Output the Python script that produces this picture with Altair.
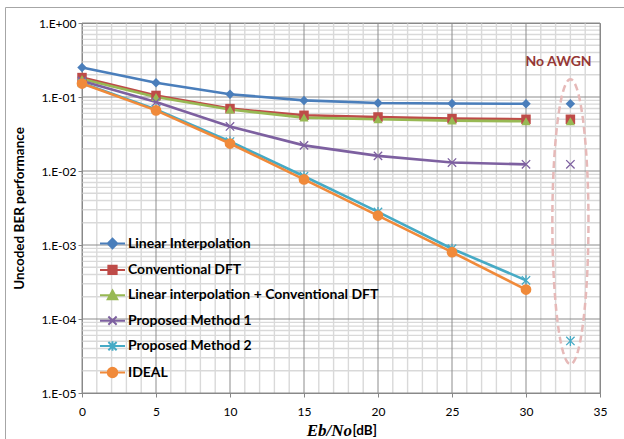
import math
import altair as alt
import pandas as pd

# ---------------- data ----------------
snr = [0, 5, 10, 15, 20, 25, 30, 33]
linear_interp = [0.25, 0.156, 0.109, 0.090, 0.083, 0.0815, 0.081, 0.081]
conv_dft = [0.183, 0.105, 0.0697, 0.0566, 0.0537, 0.051, 0.050, 0.050]
li_dft = [0.175, 0.100, 0.0676, 0.0527, 0.050, 0.048, 0.047, 0.047]
method1 = [0.165, 0.0855, 0.040, 0.0222, 0.016, 0.013, 0.0123, 0.0123]
method2 = [0.155, 0.068, 0.025, 0.0085, 0.0028, 0.00089, 0.000333, 0.0000505]
ideal = [0.152, 0.066, 0.0235, 0.0077, 0.0025, 0.0008, 0.00025]

series_names = ["Linear Interpolation", "Conventional DFT",
                "Linear interpolation + Conventional DFT",
                "Proposed Method 1", "Proposed Method 2", "IDEAL"]
series_values = [linear_interp, conv_dft, li_dft, method1, method2, ideal]
colors = ["#4A7EBB", "#BE4B48", "#98B954", "#7D60A0", "#46AAC5", "#F08A3A"]

x_ticks = [0, 5, 10, 15, 20, 25, 30, 35]
y_ticks = [1e-5, 1e-4, 1e-3, 1e-2, 1e-1, 1]

annot_text = ["No AWGN"]
annot_pos = [32.2, 0.30]
ellipse_center = [33.0, -2.685]   # x, log10(y)
ellipse_radii = [1.22, 1.925]

# ---------------- tables ----------------
rows = []
for name, vals in zip(series_names, series_values):
    for xv, yv in zip(snr, vals):
        rows.append({"x": xv, "y": yv, "series": name})
df = pd.DataFrame(rows)

gx = pd.DataFrame({"x": list(range(0, 36))})
gx["major"] = gx["x"] % 5 == 0
gy_vals = [m * 10.0 ** e for e in range(-5, 0) for m in range(1, 10)] + [1.0]
gy = pd.DataFrame({"y": gy_vals,
                   "major": [abs(math.log10(v) - round(math.log10(v))) < 1e-9 for v in gy_vals]})

ell = []
n = 120
for i in range(n + 1):
    t = 2 * math.pi * i / n
    ell.append({"i": i,
                "x": ellipse_center[0] + ellipse_radii[0] * math.cos(t),
                "y": 10 ** (ellipse_center[1] + ellipse_radii[1] * math.sin(t))})
ell = pd.DataFrame(ell)

FONT = "Lato"
xs = alt.Scale(domain=[0, 35], nice=False, zero=False)
ys = alt.Scale(type="log", domain=[1e-5, 1], nice=False)
cs = alt.Scale(domain=series_names, range=colors)

x_axis = alt.Axis(values=x_ticks, grid=False, title=None, tickSize=4, labelPadding=9,
                  labelFont=FONT, labelFontSize=12, labelColor="#000000",
                  domainColor="#868686", tickColor="#868686", labelFlush=False)
y_axis = alt.Axis(values=y_ticks, grid=False, title="Uncoded BER performance",
                  titleFont=FONT, titleFontSize=13.5, titleFontWeight="bold",
                  titleColor="#000000", titlePadding=12,
                  tickSize=4, labelPadding=2, labelFont=FONT, labelFontSize=12,
                  labelColor="#000000", domainColor="#868686", tickColor="#868686",
                  labelExpr="datum.value >= 1 ? '1.E+00' : '1.E-0' + round(-log(datum.value)/LN10)")


def X(field="x:Q"):
    return alt.X(field, scale=xs, axis=x_axis)


def Y(field="y:Q"):
    return alt.Y(field, scale=ys, axis=y_axis)


legend_paths = [
    "M-1,0L1,0M0,-0.38L0.38,0L0,0.38L-0.38,0Z",
    "M-1,0L1,0M-0.33,-0.33L0.33,-0.33L0.33,0.33L-0.33,0.33Z",
    "M-1,0L1,0M0,-0.38L0.38,0.31L-0.38,0.31Z",
    "M-1,0L1,0M-0.33,-0.33L0.33,0.33M-0.33,0.33L0.33,-0.33",
    "M-1,0L1,0M-0.33,-0.33L0.33,0.33M-0.33,0.33L0.33,-0.33M0,-0.38L0,0.38",
    "M-1,0L1,0M0.38,0A0.38,0.38 0 1,1 -0.38,0A0.38,0.38 0 1,1 0.38,0Z",
]
leg_props = dict(orient="none", legendX=17, legendY=207, title=None, padding=0,
                 labelFont=FONT, labelFontSize=14, labelFontWeight="bold",
                 labelColor="#000000", labelLimit=0, symbolSize=625,
                 symbolStrokeWidth=2, rowPadding=3.4, labelOffset=2)


def C():
    return alt.Color("series:N", scale=cs, legend=alt.Legend(**leg_props))


# frame around whole chart
frame = alt.Chart(pd.DataFrame({"a": [0]})).mark_rect(
    fill=None, stroke="#a6a6a6", strokeWidth=1, clip=False
).encode(x=alt.value(-76.5), x2=alt.value(560), y=alt.value(-15.5), y2=alt.value(430))

vminor = alt.Chart(gx).transform_filter("!datum.major").mark_rule(
    color="#d9d9d9", strokeWidth=1.4).encode(x=X())
vmajor = alt.Chart(gx).transform_filter("datum.major").mark_rule(
    color="#8c8c8c", strokeWidth=1).encode(x=X())
hminor = alt.Chart(gy).transform_filter("!datum.major").mark_rule(
    color="#d9d9d9", strokeWidth=1.4).encode(y=Y())
hmajor = alt.Chart(gy).transform_filter("datum.major").mark_rule(
    color="#8c8c8c", strokeWidth=1).encode(y=Y())

lines = alt.Chart(df).transform_filter("datum.x <= 30").mark_line(strokeWidth=2.6).encode(
    x=X(), y=Y(), color=C(), order="x:Q",
)

marker_specs = [
    ("Linear Interpolation", "diamond", True, 90),
    ("Conventional DFT", "square", True, 90),
    ("Linear interpolation + Conventional DFT", "triangle-up", True, 85),
    ("Proposed Method 1", "M-1,-1L1,1M-1,1L1,-1", False, 70),
    ("Proposed Method 2", "M-1,-1L1,1M-1,1L1,-1M0,-1.2L0,1.2", False, 70),
    ("IDEAL", "circle", True, 115),
]
marker_layers = []
for name, shp, filled, size in marker_specs:
    marker_layers.append(
        alt.Chart(df).transform_filter(alt.datum.series == name).mark_point(
            shape=shp, filled=filled, size=size, opacity=1,
            strokeWidth=(0 if filled else 1.3)
        ).encode(x=X(), y=Y(), color=C())
    )

legend_layer = alt.Chart(df).transform_filter("datum.x < 0").mark_point(filled=False).encode(
    x=X(), y=Y(), color=C(),
    fill=alt.Fill("series:N", scale=alt.Scale(domain=series_names, range=colors),
                  legend=alt.Legend(**leg_props)),
    shape=alt.Shape("series:N", scale=alt.Scale(domain=series_names, range=legend_paths),
                    legend=alt.Legend(**leg_props)),
)

ellipse = alt.Chart(ell).mark_line(color="#E6B9B8", strokeWidth=2.5, strokeDash=[7, 4]).encode(
    x=X(), y=Y(), order="i:Q",
)

annot = alt.Chart(pd.DataFrame({"t": annot_text, "x": [annot_pos[0]], "y": [annot_pos[1]]})).mark_text(
    font=FONT, fontSize=14, fontWeight="bold", color="#953735"
).encode(x=X(), y=Y(), text="t:N")

xt1 = alt.Chart(pd.DataFrame({"t": ["Eb/No"]})).mark_text(
    font="Liberation Serif", fontSize=17, fontWeight="bold", fontStyle="italic",
    align="right", baseline="middle", color="#000000", clip=False
).encode(x=alt.value(270), y=alt.value(408), text="t:N")
xt2 = alt.Chart(pd.DataFrame({"t": ["[dB]"]})).mark_text(
    font=FONT, fontSize=13.5, fontWeight="bold",
    align="left", baseline="middle", color="#000000", clip=False
).encode(x=alt.value(270.5), y=alt.value(408), text="t:N")

chart = alt.layer(
    frame, vminor, hminor, vmajor, hmajor, ellipse, lines, *marker_layers,
    legend_layer, annot, xt1, xt2
).properties(
    width=518, height=370,
    autosize=alt.AutoSizeParams(type="none"),
    padding={"left": 82, "top": 23, "right": 24, "bottom": 46},
    background="#ffffff",
).configure_view(stroke="#868686", strokeWidth=1)

chart.save("out.html", embed_options={"renderer": "svg", "actions": False})
